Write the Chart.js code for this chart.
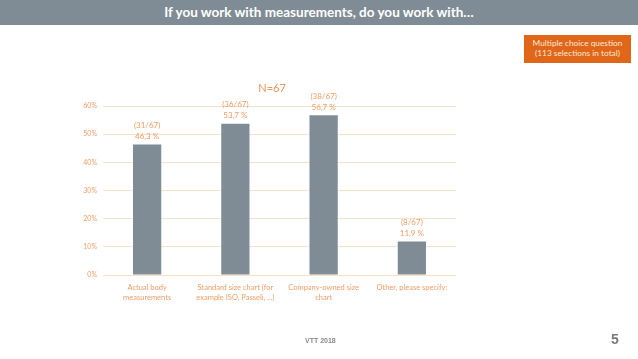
<!DOCTYPE html>
<html>
<head>
<meta charset="utf-8">
<script src="https://cdn.jsdelivr.net/npm/chart.js@4"></script>
<style>
	html, body { margin: 0; padding: 0; background: #fff; }
	#page { position: relative; width: 638px; height: 359px; overflow: hidden; font-family: Lato, 'Open Sans', sans-serif; }
	#header { position: absolute; left: 0; top: 0; width: 638px; height: 25px; background: #7f8c95; color: #fff; font-weight: bold; font-size: 13.5px; line-height: 25px; text-align: center; }
	#note { position: absolute; left: 524px; top: 35px; width: 107px; height: 28px; background: #e0661a; color: #fde8d8; font-size: 8.3px; line-height: 9.5px; text-align: center; box-sizing: border-box; padding-top: 4px; }
	#footer { position: absolute; left: 305px; top: 337px; font-family: 'Liberation Sans', Arial, sans-serif; font-weight: bold; font-size: 7px; color: #8a8a8a; }
	#pagenum { position: absolute; left: 611px; top: 331px; font-family: 'Liberation Sans', Arial, sans-serif; font-weight: bold; font-size: 14px; color: #7a7a7a; }
	#chart { position: absolute; left: 0; top: 0; }
</style>
</head>
<body>
<div id="page">
	<div id="header">If you work with measurements, do you work with…</div>
	<div id="note">Multiple choice question<br>(113 selections in total)</div>
	<canvas id="chart" width="638" height="359"></canvas>
	<div id="footer">VTT 2018</div>
	<div id="pagenum">5</div>
</div>
<script>
	const categories = [
		['Actual body', 'measurements'],
		['Standard size chart (for', 'example ISO, Passeli, ...)'],
		['Company-owned size', 'chart'],
		['Other, please specify:']
	];
	const percentValues = [46.3, 53.7, 56.7, 11.9];
	const counts = [31, 36, 38, 8];
	const respondents = 67;
	const yTicks = [0, 10, 20, 30, 40, 50, 60];

	const orange = '#e9965c';
	const labelOrange = '#ee9d66';

	const barLabels = {
		id: 'barLabels',
		afterDatasetsDraw(chart) {
			const ctx = chart.ctx;
			const meta = chart.getDatasetMeta(0);
			ctx.save();
			ctx.textAlign = 'center';
			ctx.textBaseline = 'middle';
			ctx.fillStyle = labelOrange;
			ctx.font = '8px Lato, sans-serif';
			meta.data.forEach((bar, i) => {
				const pct = percentValues[i].toFixed(1).replace('.', ',') + ' %';
				ctx.fillText('(' + counts[i] + '/' + respondents + ')', bar.x, bar.y - 19);
				ctx.fillText(pct, bar.x, bar.y - 8);
			});
			// N label over the plot
			ctx.font = '11px Lato, sans-serif';
			ctx.fillStyle = orange;
			ctx.fillText('N=' + respondents, 272, 88);
			ctx.restore();
		}
	};

	new Chart(document.getElementById('chart'), {
		type: 'bar',
		data: {
			labels: categories,
			datasets: [{
				data: percentValues,
				backgroundColor: '#7f8c96',
				borderWidth: 0,
				barPercentage: 0.64,
				categoryPercentage: 0.5
			}]
		},
		options: {
			responsive: false,
			animation: false,
			events: [],
			layout: {
				padding: { left: 63, right: 182, top: 106, bottom: 40 }
			},
			plugins: {
				legend: { display: false },
				tooltip: { enabled: false }
			},
			scales: {
				x: {
					grid: { display: false },
					border: { display: false },
					ticks: {
						color: labelOrange,
						font: { family: 'Lato, sans-serif', size: 7.5, lineHeight: 1.3 },
						padding: 0,
						maxRotation: 0,
						autoSkip: false
					},
					afterFit(scale) { scale.height = 44; }
				},
				y: {
					min: 0,
					max: 60,
					afterBuildTicks(scale) {
						scale.ticks = yTicks.map((v) => ({ value: v }));
					},
					grid: { color: '#f8e0cb', lineWidth: 1, drawTicks: false },
					border: { display: false },
					ticks: {
						color: labelOrange,
						font: { family: 'Lato, sans-serif', size: 7 },
						padding: 6,
						callback: (v) => v + '%'
					},
					afterFit(scale) { scale.width = 40; }
				}
			}
		},
		plugins: [barLabels]
	});
</script>
</body>
</html>
